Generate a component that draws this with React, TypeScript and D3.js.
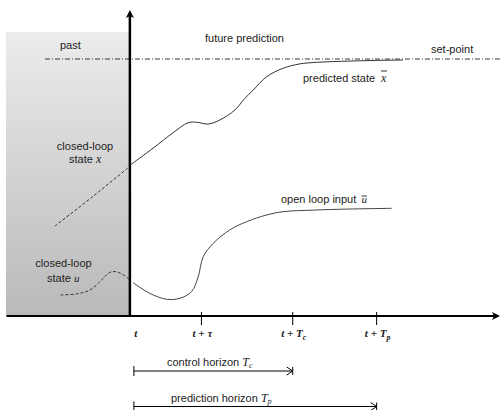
import React from 'react';
import * as d3 from 'd3';

// time in units of the chart (t = 0 at the vertical axis), value 0..1 (1 = set-point)
const predictedState: [number, number][] = [
  [0.05, 0.59], [0.94, 0.653], [1.75, 0.713], [2.36, 0.752], [2.7, 0.754],
  [3.17, 0.747], [3.65, 0.763], [4.26, 0.802], [4.66, 0.847], [5.0, 0.879],
  [5.54, 0.931], [6.21, 0.964], [6.89, 0.981], [7.57, 0.987], [8.92, 0.992],
  [10.25, 0.995], [11.07, 0.996],
];
const closedLoopX: [number, number][] = [[-3.04, 0.35], [-1.5, 0.465], [-0.08, 0.576]];
const closedLoopU: [number, number][] = [
  [-2.81, 0.082], [-2.16, 0.086], [-1.62, 0.101], [-1.15, 0.14], [-0.81, 0.17],
  [-0.54, 0.172], [-0.27, 0.16], [-0.03, 0.143],
];
const openLoopInput: [number, number][] = [
  [0.13, 0.13], [0.81, 0.088], [1.49, 0.065], [2.03, 0.069], [2.5, 0.095],
  [2.77, 0.153], [2.97, 0.23], [3.38, 0.283], [4.05, 0.335], [4.73, 0.367],
  [5.54, 0.393], [6.21, 0.406], [7.43, 0.412], [8.78, 0.416], [10.61, 0.419],
];
const setPoint = 1;
const setPointRange = [-3.44, 15];
const tickTimes = [0, 2.9, 6.6, 10];
const tickSubs = ['', '', 'c', 'p'];
const tickMain = ['t', 't + τ', 't + T', 't + T'];
const horizons = [
  { name: 'control horizon ', sym: 'T', sub: 'c', end: 6.6 },
  { name: 'prediction horizon ', sym: 'T', sub: 'p', end: 10 },
];

const W = 501;
const H = 410;
const sans = 'Liberation Sans, Arial, sans-serif';
const serif = 'Liberation Serif, Times New Roman, serif';

export default function App() {
  const x = d3.scaleLinear().domain([-5, 15]).range([6.5, 500]);
  const y = d3.scaleLinear().domain([0, 1]).range([316, 59]);
  const line = d3.line<[number, number]>()
    .x((d) => x(d[0]))
    .y((d) => y(d[1]))
    .curve(d3.curveCatmullRom.alpha(0.5));
  const straight = d3.line<[number, number]>().x((d) => x(d[0])).y((d) => y(d[1]));

  const x0 = x(0);
  const y0 = y(0);
  const horizonY = [371, 406.5];

  return (
    <svg width={W} height={H} style={{ position: 'absolute', left: 0, top: 0 }}>
      <defs>
        <linearGradient id="past" x1="0" y1="0" x2="0" y2="1">
          <stop offset="0%" stopColor="#ececec" />
          <stop offset="100%" stopColor="#b9b9b9" />
        </linearGradient>
      </defs>
      <rect x={x(-5) - 0.5} y={y(1.105)} width={x0 - x(-5) + 0.5} height={y0 - y(1.105)} fill="url(#past)" />

      {/* set-point */}
      <path
        d={straight([[setPointRange[0], setPoint], [setPointRange[1], setPoint]]) || ''}
        stroke="#222" strokeWidth={0.9} fill="none" strokeDasharray="5,2,1,2"
      />

      <path d={line(closedLoopX) || ''} stroke="#333" strokeWidth={1} fill="none" strokeDasharray="3,2" />
      <path d={line(closedLoopU) || ''} stroke="#333" strokeWidth={1} fill="none" strokeDasharray="3,2" />
      <path d={line(predictedState) || ''} stroke="#333" strokeWidth={1} fill="none" />
      <path d={line(openLoopInput) || ''} stroke="#444" strokeWidth={1} fill="none" />

      {/* axes */}
      <line x1={x(-5)} x2={496} y1={y0} y2={y0} stroke="#000" strokeWidth={2} />
      <path d={`M500,${y0} L492,${y0 - 4} L494,${y0} L492,${y0 + 4} Z`} fill="#000" />
      <line x1={x0} x2={x0} y1={y0 + 1} y2={15} stroke="#000" strokeWidth={2.5} />
      <path d={`M${x0},10 L${x0 - 4},18 L${x0},16 L${x0 + 4},18 Z`} fill="#000" />

      {tickTimes.map((t, i) => (
        <g key={i}>
          {i > 0 && <line x1={x(t)} x2={x(t)} y1={y0 - 4} y2={y0 + 9} stroke="#000" strokeWidth={1} />}
          <text
            x={i === 0 ? x(t) + 6 : x(t) + 1}
            y={337}
            textAnchor="middle"
            fontFamily={serif}
            fontStyle="italic"
            fontWeight="bold"
            fontSize={11}
            fill="#222"
          >
            {tickMain[i]}
            {tickSubs[i] && <tspan fontSize={8} dy={3}>{tickSubs[i]}</tspan>}
          </text>
        </g>
      ))}

      {horizons.map((h, i) => {
        const hy = horizonY[i];
        const xe = x(h.end);
        return (
          <g key={h.name}>
            <line x1={x0 + 4} x2={xe} y1={hy} y2={hy} stroke="#000" strokeWidth={1} />
            <line x1={x0 + 4} x2={x0 + 4} y1={hy - 5} y2={hy + 5} stroke="#000" strokeWidth={1} />
            <path d={`M${xe - 6},${hy - 4} L${xe},${hy} L${xe - 6},${hy + 4}`} stroke="#000" fill="none" strokeWidth={1} />
            <line x1={xe} x2={xe} y1={hy - 4} y2={hy + 4} stroke="#000" strokeWidth={1} />
            <text x={i === 0 ? 167 : 171} y={hy - 5} fontFamily={sans} fontSize={11} fill="#222">
              {h.name}
              <tspan fontFamily={serif} fontStyle="italic" fontSize={12}>{h.sym}</tspan>
              <tspan fontFamily={serif} fontStyle="italic" fontSize={8} dy={2}>{h.sub}</tspan>
            </text>
          </g>
        );
      })}

      <g fontFamily={sans} fontSize={11} fill="#222">
        <text x={60} y={49}>past</text>
        <text x={205} y={42}>future prediction</text>
        <text x={431} y={53}>set-point</text>
        <text x={303} y={82}>predicted state</text>
        <text x={281} y={203}>open loop input</text>
        <text x={85} y={150} textAnchor="middle">closed-loop</text>
        <text x={69} y={163}>state <tspan fontFamily={serif} fontStyle="italic" fontSize={12}>x</tspan></text>
        <text x={63.5} y={267} textAnchor="middle">closed-loop</text>
        <text x={47} y={282}>state <tspan fontFamily={serif} fontStyle="italic" fontSize={11}>u</tspan></text>
      </g>
      <text x={381} y={82} fontFamily={serif} fontStyle="italic" fontSize={12} fill="#222">x</text>
      <line x1={381} x2={387} y1={71} y2={71} stroke="#222" strokeWidth={0.9} />
      <text x={361.5} y={203} fontFamily={serif} fontStyle="italic" fontSize={11} fill="#222">u</text>
      <line x1={361.5} x2={367} y1={196} y2={196} stroke="#222" strokeWidth={0.9} />
    </svg>
  );
}
